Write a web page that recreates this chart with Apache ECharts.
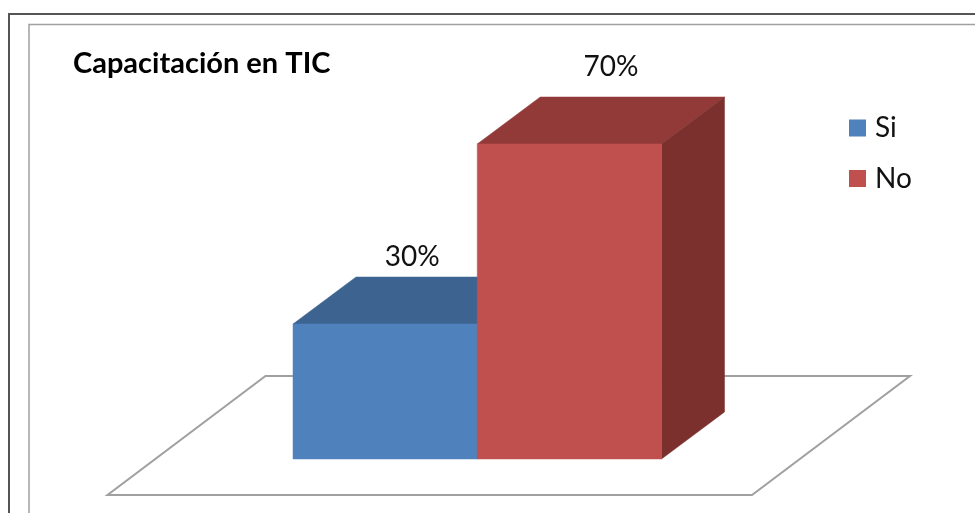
<!DOCTYPE html>
<html>
<head>
<meta charset="utf-8">
<style>html,body{margin:0;padding:0;background:#fff}#c{width:975px;height:513px}</style>
<script src="https://cdn.jsdelivr.net/npm/echarts@6/dist/echarts.min.js"></script>
</head>
<body>
<div id="c"></div>
<script>
var categories = ['Si', 'No'];
var percentValues = [30, 70];
var tickLabels = ['30%', '70%'];
var frontColors = ['#4f81bd', '#c0504d'];
var topColors = ['#3d6491', '#923a38'];
var sideColors = ['#31527a', '#7b302e'];

var DEPTH_X = 63, DEPTH_Y = -47;
var LABEL_DX = [27, 41.5], LABEL_DY = [-20.5, -30];
var FONT = 'Lato, "Open Sans", sans-serif';

var chart = echarts.init(document.getElementById('c'), null, {renderer: 'canvas'});

function face(points, color, stroke) {
  return {
    type: 'polygon',
    shape: {points: points},
    style: {fill: color, stroke: stroke || color, lineWidth: 0.5}
  };
}

function barRenderer(idx) {
  return function (params, api) {
    var bw = api.size([1, 0])[0];
    var top = api.coord([idx, api.value(1)]);
    var base = api.coord([idx, 0]);
    var l = top[0] - bw / 2, r = top[0] + bw / 2, t = top[1], b = base[1];
    return {
      type: 'group',
      children: [
        face([[l, t], [r, t], [r + DEPTH_X, t + DEPTH_Y], [l + DEPTH_X, t + DEPTH_Y]], topColors[idx]),
        face([[r, t], [r + DEPTH_X, t + DEPTH_Y], [r + DEPTH_X, b + DEPTH_Y], [r, b]], sideColors[idx]),
        face([[l, t], [r, t], [r, b], [l, b]], frontColors[idx]),
        {
          type: 'text',
          style: {
            text: tickLabels[idx],
            x: top[0] + LABEL_DX[idx],
            y: t + DEPTH_Y + LABEL_DY[idx],
            align: 'center',
            verticalAlign: 'middle',
            font: '28px ' + FONT,
            fill: '#111'
          }
        }
      ]
    };
  };
}

function floorRenderer(params, api) {
  var bw = api.size([1, 0])[0];
  var o = api.coord([0, 0]);
  var x0 = o[0] - bw / 2, y0 = o[1];
  var FL = -185.5, FR = 90.5, FF = 36, FB = -83, SK = 158;
  var x1 = x0 + 2 * bw;
  return {
    type: 'polygon',
    shape: {points: [
      [x0 + FL, y0 + FF], [x1 + FR, y0 + FF],
      [x1 + FR + SK, y0 + FB], [x0 + FL + SK, y0 + FB]
    ]},
    style: {fill: '#fff', stroke: '#a0a0a0', lineWidth: 2}
  };
}

chart.setOption({
  animation: false,
  backgroundColor: '#fff',
  title: {
    text: 'Capacitación en TIC',
    left: 73, top: 49, padding: 0,
    textStyle: {fontFamily: FONT, fontSize: 29, fontWeight: 'bold', color: '#000'}
  },
  legend: {
    orient: 'vertical',
    left: 849, top: 113,
    padding: 0,
    itemWidth: 17, itemHeight: 17, itemGap: 20.5,
    textStyle: {fontFamily: FONT, fontSize: 28, color: '#111', lineHeight: 30, padding: [0, 0, 0, 4]},
    data: [
      {name: categories[0], icon: 'rect', itemStyle: {color: frontColors[0]}},
      {name: categories[1], icon: 'rect', itemStyle: {color: frontColors[1]}}
    ]
  },
  grid: {left: 293, top: 9, width: 368.5, height: 450},
  xAxis: {type: 'category', data: categories, show: false},
  yAxis: {type: 'value', min: 0, max: 100, show: false},
  graphic: [
    {type: 'polyline', z: -1, silent: true,
     shape: {points: [[9, 513], [9, 14], [975, 14]]},
     style: {fill: null, stroke: '#555', lineWidth: 2}},
    {type: 'polyline', z: -1, silent: true,
     shape: {points: [[29, 513], [29, 24.5], [975, 24.5]]},
     style: {fill: null, stroke: '#a0a0a0', lineWidth: 1.5}}
  ],
  series: [
    {type: 'custom', name: 'piso', z: 1, silent: true, renderItem: floorRenderer, data: [[0, 0]],
     encode: {x: 0, y: 1}},
    {type: 'custom', name: categories[0], z: 2, renderItem: barRenderer(0), clip: false,
     itemStyle: {color: frontColors[0]},
     data: [[0, percentValues[0]]], encode: {x: 0, y: 1}},
    {type: 'custom', name: categories[1], z: 3, renderItem: barRenderer(1), clip: false,
     itemStyle: {color: frontColors[1]},
     data: [[1, percentValues[1]]], encode: {x: 0, y: 1}}
  ]
});
</script>
</body>
</html>
